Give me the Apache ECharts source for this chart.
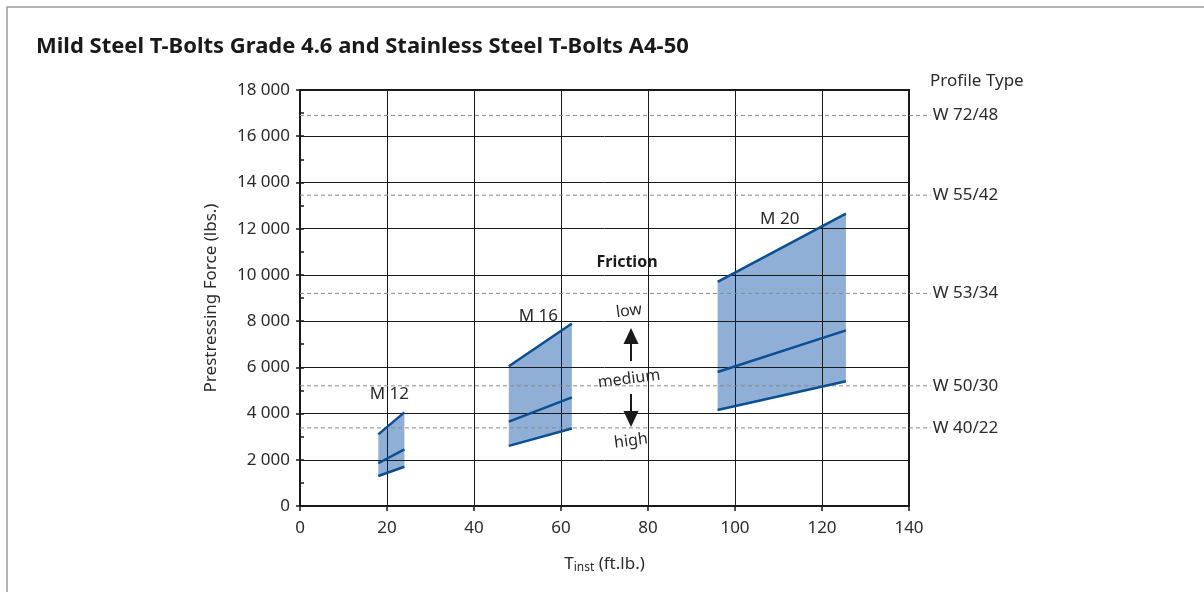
<!DOCTYPE html>
<html>
<head>
<meta charset="utf-8">
<script src="https://cdn.jsdelivr.net/npm/echarts@6/dist/echarts.min.js"></script>
<style>
  html, body { margin: 0; padding: 0; background: #fff; }
  #chart { width: 1204px; height: 592px; }
</style>
</head>
<body>
<div id="chart"></div>
<script>
// bolt sizes and their torque range (ft.lb.)
const bolts = ['M 12', 'M 16', 'M 20']
const torqueFrom = [18, 48, 96]
const torqueTo = [24, 62.5, 125.5]
// prestressing force (lbs.) at start / end of torque range, per friction level
const lowFrom = [3100, 6050, 9700]
const lowTo = [4050, 7900, 12650]
const mediumFrom = [1850, 3650, 5800]
const mediumTo = [2450, 4700, 7600]
const highFrom = [1300, 2600, 4150]
const highTo = [1700, 3350, 5400]
// profile types and their load limit
const profiles = ['W 72/48', 'W 55/42', 'W 53/34', 'W 50/30', 'W 40/22']
const profileForce = [16900, 13450, 9200, 5200, 3380]
const profileLineEnd = 145

const FONT = "'Noto Sans', 'Open Sans', sans-serif"
const TXT = '#2b2b2b'
const GRIDLINE = '#1a1a1a'

const bandData = bolts.map((b, i) => [
  torqueFrom[i], torqueTo[i],
  lowFrom[i], lowTo[i],
  mediumFrom[i], mediumTo[i],
  highFrom[i], highTo[i]
])
const profileData = profiles.map((p, i) => [0, profileLineEnd, profileForce[i]])

function fmt(v) {
  return String(v).replace(/\B(?=(\d{3})+(?!\d))/g, ' ')
}

const chart = echarts.init(document.getElementById('chart'))

chart.setOption({
  backgroundColor: '#fff',
  animation: false,
  title: {
    text: 'Mild Steel T-Bolts Grade 4.6 and Stainless Steel T-Bolts A4-50',
    left: 31,
    top: 31,
    textStyle: { fontSize: 22, fontWeight: 'bold', color: '#1a1a1a', fontFamily: FONT }
  },
  grid: {
    left: 300,
    right: 295,
    top: 90,
    bottom: 86,
    show: true,
    borderColor: GRIDLINE,
    borderWidth: 2
  },
  xAxis: {
    type: 'value',
    min: 0,
    max: 140,
    interval: 20,
    name: '{t|T}{s|inst}{t| (ft.lb.)}',
    nameLocation: 'middle',
    nameGap: 48,
    nameTextStyle: {
      rich: {
        t: { fontSize: 17, color: TXT, fontFamily: FONT },
        s: { fontSize: 12, color: TXT, fontFamily: FONT, padding: [8, 0, 0, 0] }
      }
    },
    axisLine: { lineStyle: { color: GRIDLINE, width: 2 } },
    axisTick: { length: 5, lineStyle: { color: GRIDLINE, width: 1.5 } },
    axisLabel: { fontSize: 17, color: TXT, fontFamily: FONT, margin: 14 },
    splitLine: { lineStyle: { color: GRIDLINE, width: 1 } }
  },
  yAxis: [
    {
      type: 'value',
      min: 0,
      max: 18000,
      interval: 2000,
      name: 'Prestressing Force (lbs.)',
      nameLocation: 'middle',
      nameGap: 80,
      nameTextStyle: { fontSize: 17, color: TXT, fontFamily: FONT },
      axisLine: { lineStyle: { color: GRIDLINE, width: 2 } },
      axisTick: { length: 4, lineStyle: { color: GRIDLINE, width: 1.5 } },
      axisLabel: { fontSize: 17, color: TXT, fontFamily: FONT, margin: 10, formatter: fmt },
      splitLine: { lineStyle: { color: GRIDLINE, width: 1 } }
    },
    {
      // inner half-step ticks
      type: 'value',
      position: 'left',
      min: 0,
      max: 18000,
      interval: 1000,
      axisLine: { show: false },
      axisTick: { inside: true, length: 4, lineStyle: { color: GRIDLINE, width: 1.5 } },
      axisLabel: { show: false },
      splitLine: { show: false }
    }
  ],
  graphic: [
    {
      type: 'rect',
      silent: true,
      shape: { x: 7, y: 7, width: 1220, height: 620 },
      style: { fill: 'none', stroke: '#9a9a9a', lineWidth: 1.5 }
    },
    {
      type: 'text', left: 930, top: 73,
      style: { text: 'Profile Type', fill: TXT, font: '17px ' + FONT }
    },
    {
      type: 'text', x: 627, y: 262,
      style: { text: 'Friction', fill: '#1a1a1a', font: 'bold 16px ' + FONT, align: 'center', verticalAlign: 'middle' }
    },
    {
      type: 'text', x: 629, y: 311, rotation: 0.13,
      style: { text: 'low', fill: TXT, font: '16px ' + FONT, align: 'center', verticalAlign: 'middle' }
    },
    {
      type: 'line', shape: { x1: 631, y1: 361, x2: 631, y2: 340 },
      style: { stroke: '#1a1a1a', lineWidth: 2 }
    },
    {
      type: 'polygon', shape: { points: [[631, 328], [623.5, 344], [638.5, 344]] },
      style: { fill: '#1a1a1a' }
    },
    {
      type: 'text', x: 629, y: 379, rotation: 0.13,
      style: { text: 'medium', fill: TXT, font: '16px ' + FONT, align: 'center', verticalAlign: 'middle' }
    },
    {
      type: 'line', shape: { x1: 631, y1: 394, x2: 631, y2: 414 },
      style: { stroke: '#1a1a1a', lineWidth: 2 }
    },
    {
      type: 'polygon', shape: { points: [[631, 427], [623.5, 411], [638.5, 411]] },
      style: { fill: '#1a1a1a' }
    },
    {
      type: 'text', x: 631, y: 441, rotation: 0.13,
      style: { text: 'high', fill: TXT, font: '16px ' + FONT, align: 'center', verticalAlign: 'middle' }
    }
  ],
  series: [
    {
      // shaded friction band
      type: 'custom',
      z: -1,
      data: bandData,
      encode: { x: [0, 1], y: [2, 3, 6, 7] },
      renderItem(params, api) {
        const x0 = api.value(0), x1 = api.value(1)
        return {
          type: 'polygon',
          shape: {
            points: [
              api.coord([x0, api.value(6)]),
              api.coord([x1, api.value(7)]),
              api.coord([x1, api.value(3)]),
              api.coord([x0, api.value(2)])
            ]
          },
          style: { fill: '#8fafd6' }
        }
      }
    },
    {
      // profile type limits, running past the plot into their labels
      type: 'custom',
      z: 2,
      silent: true,
      clip: false,
      data: profileData,
      encode: { x: [0, 1], y: 2 },
      renderItem(params, api) {
        const a = api.coord([api.value(0), api.value(2)])
        const b = api.coord([api.value(1), api.value(2)])
        return {
          type: 'group',
          children: [
            {
              type: 'line',
              shape: { x1: a[0], y1: a[1], x2: b[0], y2: b[1] },
              style: { stroke: '#8a8a8a', lineWidth: 1, lineDash: [4, 3] }
            },
            {
              type: 'text',
              x: b[0] + 2,
              y: b[1],
              style: {
                text: profiles[params.dataIndex],
                fill: TXT,
                font: '17px ' + FONT,
                align: 'left',
                verticalAlign: 'middle'
              }
            }
          ]
        }
      }
    },
    {
      // friction lines + bolt labels
      type: 'custom',
      z: 3,
      data: bandData,
      encode: { x: [0, 1], y: [2, 3, 6, 7] },
      renderItem(params, api) {
        const x0 = api.value(0), x1 = api.value(1)
        const children = []
        for (let k = 0; k < 3; k++) {
          const a = api.coord([x0, api.value(2 + k * 2)])
          const b = api.coord([x1, api.value(3 + k * 2)])
          children.push({
            type: 'line',
            shape: { x1: a[0], y1: a[1], x2: b[0], y2: b[1] },
            style: { stroke: '#0b4f92', lineWidth: 2.5 }
          })
        }
        const t0 = api.coord([x0, api.value(2)])
        const t1 = api.coord([x1, api.value(3)])
        children.push({
          type: 'text',
          x: (t0[0] + t1[0]) / 2 - 2,
          y: (t0[1] + t1[1]) / 2 - 29,
          style: {
            text: bolts[params.dataIndex],
            fill: TXT,
            font: '17px ' + FONT,
            align: 'center',
            verticalAlign: 'middle'
          }
        })
        return { type: 'group', children: children }
      }
    }
  ]
})
</script>
</body>
</html>
